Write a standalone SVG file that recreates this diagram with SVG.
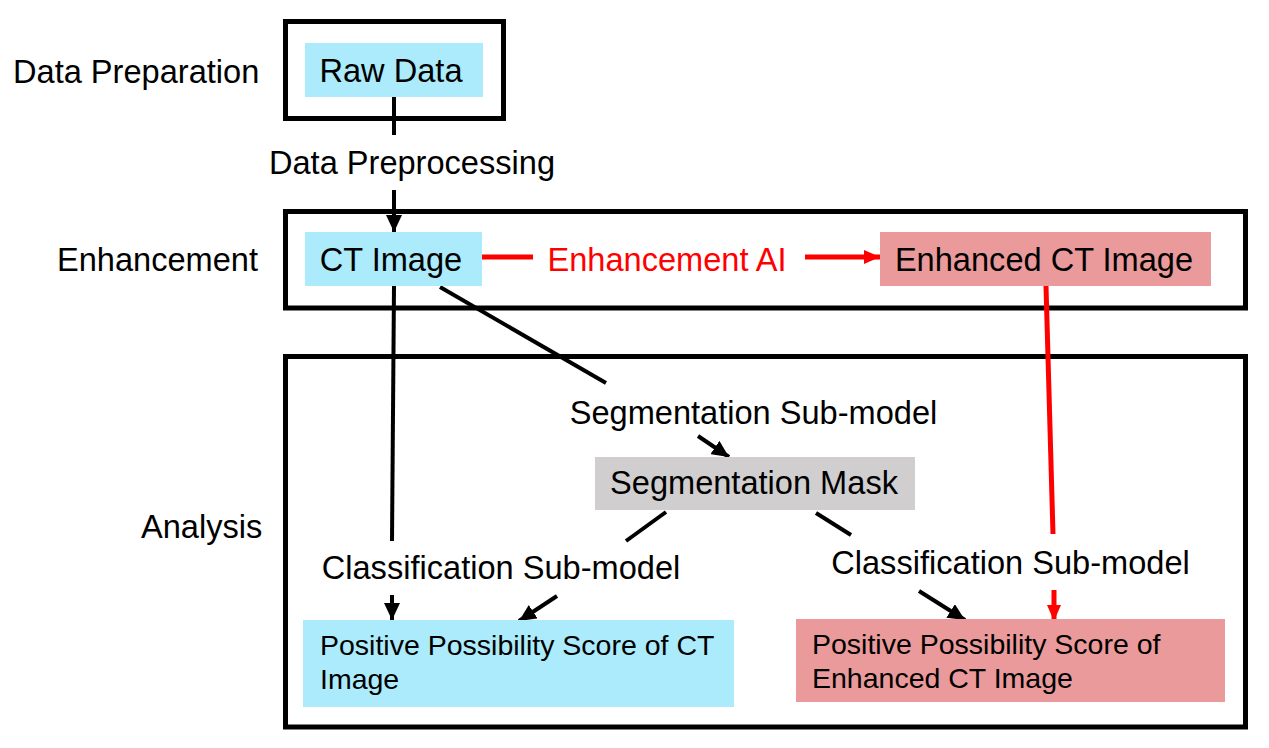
<svg xmlns="http://www.w3.org/2000/svg" width="1269" height="748" viewBox="0 0 1269 748">
<style>
text{font-family:"Liberation Sans",Arial,sans-serif;fill:#000}
.t32{font-size:32.6px}
.t28{font-size:28.5px}
.mid{text-anchor:middle}
.red{fill:#FF0000}
.frame{fill:none;stroke:#000;stroke-width:5}
.cyan{fill:#ABEBFB}
.pink{fill:#EA9A9A}
.gray{fill:#D0CECE}
.k{stroke:#000;stroke-width:4;fill:none}
.r{stroke:#FF0000;stroke-width:5;fill:none}
</style>
<defs>
<marker id="ak" markerUnits="userSpaceOnUse" markerWidth="17" markerHeight="16" viewBox="0 0 17 16" refX="17" refY="8" orient="auto">
<path d="M0,0 L17,8 L0,16 Z" fill="#000"/>
</marker>
<marker id="ar" markerUnits="userSpaceOnUse" markerWidth="16" markerHeight="16" viewBox="0 0 16 16" refX="16" refY="8" orient="auto">
<path d="M0,1 L16,8 L0,15 Z" fill="#FF0000"/>
</marker>
</defs>
<rect width="1269" height="748" fill="#fff"/>
<g id="frames">
<rect class="frame" x="285.5" y="21.5" width="218" height="97"/>
<rect class="frame" x="285.5" y="211.5" width="960" height="96.5"/>
<rect class="frame" x="285.5" y="356.5" width="960" height="370.5"/>
</g>
<g id="stage-labels">
<text class="t32" x="13" y="82.5">Data Preparation</text>
<text class="t32" x="57" y="271">Enhancement</text>
<text class="t32" x="141" y="538">Analysis</text>
</g>
<g id="connectors">
<line class="k" x1="394" y1="97" x2="394" y2="135"/>
<line class="k" x1="394" y1="190" x2="394" y2="232" marker-end="url(#ak)"/>
<text class="t32 mid" x="412" y="174">Data Preprocessing</text>
<line class="r" x1="482" y1="257" x2="533" y2="257"/>
<line class="r" x1="805" y1="257" x2="880" y2="257" marker-end="url(#ar)"/>
<text class="t32 mid red" x="667" y="271">Enhancement AI</text>
<line class="k" x1="394" y1="286" x2="392" y2="541"/>
<line class="k" x1="392" y1="595" x2="392" y2="620" marker-end="url(#ak)"/>
<line class="k" x1="440" y1="287" x2="606" y2="383"/>
<line class="k" x1="698" y1="436" x2="729" y2="457" marker-end="url(#ak)"/>
<text class="t32 mid" x="753.5" y="424">Segmentation Sub-model</text>
<line class="k" x1="666" y1="512" x2="626" y2="541"/>
<line class="k" x1="557" y1="596" x2="519" y2="621" marker-end="url(#ak)"/>
<text class="t32 mid" x="501" y="579">Classification Sub-model</text>
<line class="k" x1="816" y1="513" x2="851" y2="535"/>
<line class="k" x1="919" y1="591" x2="965" y2="620" marker-end="url(#ak)"/>
<line class="r" x1="1046" y1="286" x2="1053" y2="534"/>
<line class="r" x1="1054" y1="590" x2="1054" y2="621" marker-end="url(#ar)"/>
<text class="t32 mid" x="1010.5" y="574">Classification Sub-model</text>
</g>
<g id="raw-data">
<rect class="cyan" x="305" y="43" width="178" height="54"/>
<text class="t32 mid" x="391" y="82">Raw Data</text>
</g>
<g id="ct-image">
<rect class="cyan" x="305" y="232" width="177" height="54"/>
<text class="t32 mid" x="391" y="271">CT Image</text>
</g>
<g id="enhanced-ct-image">
<rect class="pink" x="880" y="232" width="331" height="54"/>
<text class="t32 mid" x="1044" y="271">Enhanced CT Image</text>
</g>
<g id="segmentation-mask">
<rect class="gray" x="595" y="457" width="320" height="53"/>
<text class="t32 mid" x="754" y="494">Segmentation Mask</text>
</g>
<g id="score-ct">
<rect class="cyan" x="303" y="620" width="431" height="87"/>
<text class="t28" x="320" y="655">Positive Possibility Score of CT</text>
<text class="t28" x="320" y="689">Image</text>
</g>
<g id="score-enhanced">
<rect class="pink" x="796" y="619" width="429" height="83"/>
<text class="t28" x="812" y="654">Positive Possibility Score of</text>
<text class="t28" x="812" y="688">Enhanced CT Image</text>
</g>
</svg>
